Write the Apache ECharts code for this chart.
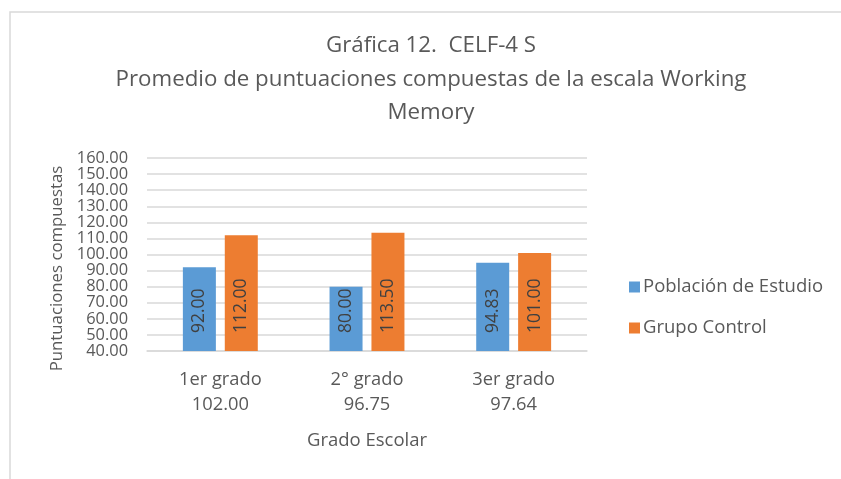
<!DOCTYPE html>
<html>
<head>
<meta charset="utf-8">
<script src="https://cdn.jsdelivr.net/npm/echarts@6/dist/echarts.min.js"></script>
<style>
  html, body { margin: 0; padding: 0; background: #fff; }
  #chart { width: 841px; height: 479px; }
</style>
</head>
<body>
<div id="chart"></div>
<script>
// datos de la gráfica
var grados = ['1er grado', '2° grado', '3er grado'];
var promedios = ['102.00', '96.75', '97.64'];
var poblacion = [92.00, 80.00, 94.83];
var control = [112.00, 113.50, 101.00];
var nombres = ['Población de Estudio', 'Grupo Control'];

var fuente = '"Open Sans", "Noto Sans", sans-serif';
var gris = '#595959';

var categorias = grados.map(function (g, i) {
	return g + '\n' + promedios[i];
});

function etiqueta() {
	return {
		show: true,
		position: 'insideBottom',
		distance: 18,
		rotate: 90,
		align: 'left',
		verticalAlign: 'middle',
		color: '#404040',
		fontFamily: fuente,
		fontSize: 17.5,
		formatter: function (p) {
			return p.value.toFixed(2);
		}
	};
}

var myChart = echarts.init(document.getElementById('chart'));
var option = {
	backgroundColor: '#fff',
	animation: false,
	title: {
		text: 'Gráfica 12.  CELF-4 S\nPromedio de puntuaciones compuestas de la escala Working\nMemory',
		left: 431,
		top: 29,
		textAlign: 'center',
		padding: 0,
		textStyle: {
			color: gris,
			fontFamily: fuente,
			fontWeight: 'normal',
			fontSize: 22.3,
			lineHeight: 33.5
		}
	},
	graphic: [{
		type: 'rect',
		shape: { x: 10, y: 12, width: 900, height: 600 },
		style: { fill: 'none', stroke: '#D9D9D9', lineWidth: 1.5 },
		silent: true
	}],
	legend: {
		orient: 'vertical',
		left: 624,
		top: 271,
		itemWidth: 11,
		itemHeight: 11,
		itemGap: 19,
		icon: 'rect',
		data: nombres,
		textStyle: {
			color: gris,
			fontFamily: fuente,
			fontSize: 18.5,
			lineHeight: 22,
			padding: [0, 0, 0, -2]
		}
	},
	grid: {
		left: 147,
		right: 254,
		top: 158,
		bottom: 128,
		containLabel: false
	},
	xAxis: {
		type: 'category',
		data: categorias,
		name: 'Grado Escolar',
		nameLocation: 'middle',
		nameGap: 80,
		nameTextStyle: { color: gris, fontFamily: fuente, fontSize: 18.5 },
		axisLine: { lineStyle: { color: '#D9D9D9', width: 1.5 } },
		axisTick: { show: false },
		axisLabel: {
			color: gris,
			fontFamily: fuente,
			fontSize: 18.3,
			lineHeight: 25,
			margin: 16
		}
	},
	yAxis: {
		type: 'value',
		min: 40,
		max: 160,
		interval: 10,
		name: 'Puntuaciones compuestas',
		nameLocation: 'middle',
		nameGap: 78,
		nameTextStyle: {
			color: gris,
			fontFamily: fuente,
			fontSize: 16.8,
			padding: [0, 28, 0, 0]
		},
		axisLine: { show: false },
		axisTick: { show: false },
		splitLine: { lineStyle: { color: '#D9D9D9', width: 1.5 } },
		axisLabel: {
			color: gris,
			fontFamily: fuente,
			fontSize: 16.4,
			margin: 19,
			lineHeight: 12,
			formatter: function (v) { return v.toFixed(2); }
		}
	},
	series: [
		{
			name: nombres[0],
			type: 'bar',
			data: poblacion,
			barWidth: 33,
			barGap: '27%',
			itemStyle: { color: '#5B9BD5' },
			label: etiqueta()
		},
		{
			name: nombres[1],
			type: 'bar',
			data: control,
			barWidth: 33,
			barGap: '27%',
			itemStyle: { color: '#ED7D31' },
			label: etiqueta()
		}
	]
};
myChart.setOption(option);
</script>
</body>
</html>
